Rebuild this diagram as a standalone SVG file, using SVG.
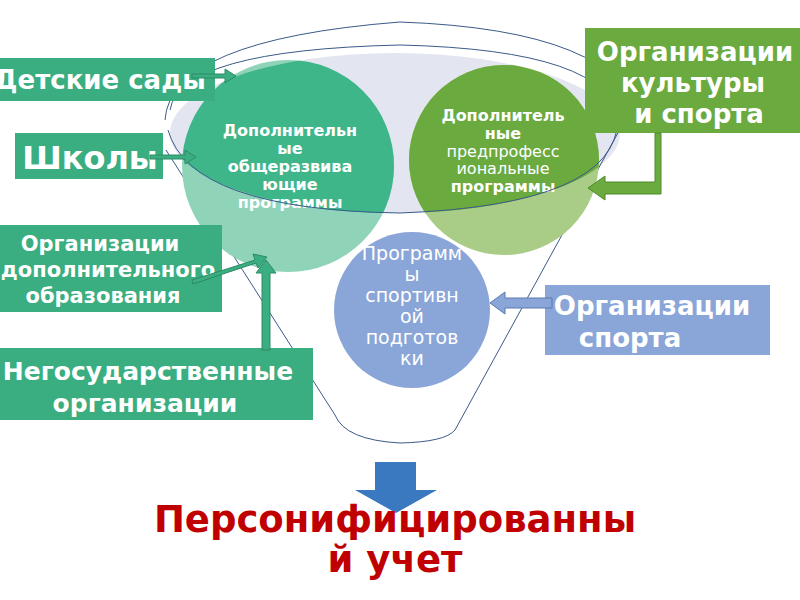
<svg xmlns="http://www.w3.org/2000/svg" width="800" height="600" viewBox="0 0 800 600">
<style>
.bt{font-family:"DejaVu Sans",sans-serif;font-weight:bold;fill:#fff;text-anchor:middle}
.ct{font-family:"DejaVu Sans",sans-serif;fill:#fff;text-anchor:middle}
.fl{fill:none;stroke:#3b5a8a;stroke-width:1}
.ga{fill:#3aae80;stroke:#2e8a66;stroke-width:1}
</style>
<defs>
<clipPath id="inner"><ellipse cx="395" cy="133" rx="225" ry="80"/></clipPath>
</defs>
<rect width="800" height="600" fill="#fff"/>
<g id="funnel">
<ellipse cx="395" cy="133" rx="225" ry="80" fill="#e3e5f0"/>
<path class="fl" d="M165 120 Q170 40 400 22 Q620 30 640 120"/>
<path class="fl" d="M166 150 L335 415 Q345 440 400 443 Q445 442 455 430 L625 120"/>
</g>
<g id="c1">
<circle cx="288" cy="166" r="106" fill="#8fd4b8"/>
<circle cx="288" cy="166" r="106" fill="#3fb68a" clip-path="url(#inner)"/>
<text class="ct" font-size="16" font-weight="bold"><tspan x="290" y="136">Дополнительн</tspan><tspan x="290" y="154">ые</tspan><tspan x="290" y="172">общеразвива</tspan><tspan x="290" y="190">ющие</tspan><tspan x="290" y="208">программы</tspan></text>
</g>
<g id="c2">
<circle cx="504" cy="160" r="95" fill="#a9cd86"/>
<circle cx="504" cy="160" r="95" fill="#6aaa3f" clip-path="url(#inner)"/>
<text class="ct" font-size="16"><tspan x="503" y="121" font-weight="bold">Дополнитель</tspan><tspan x="503" y="139" font-weight="bold">ные</tspan><tspan x="503" y="157">предпрофесс</tspan><tspan x="503" y="174">иональные</tspan><tspan x="503" y="192" font-weight="bold">программы</tspan></text>
</g>
<g id="c3">
<circle cx="412" cy="310" r="78" fill="#8aa6d8"/>
<text class="ct" font-size="19"><tspan x="412" y="260">Программ</tspan><tspan x="412" y="281">ы</tspan><tspan x="412" y="302">спортивн</tspan><tspan x="412" y="323">ой</tspan><tspan x="412" y="344">подготов</tspan><tspan x="412" y="365">ки</tspan></text>
</g>
<g id="fun-cover">
<path class="fl" d="M170 110 Q180 50 400 45 Q610 50 618 120 Q615 205 400 213 Q190 210 168 130"/>
</g>
<g id="b1"><rect x="0" y="58" width="215" height="43" fill="#3aae80"/><text class="bt" x="100" y="89" font-size="26">Детские сады</text></g>
<g id="b2"><rect x="15" y="133" width="148" height="46" fill="#3aae80"/><text class="bt" x="90" y="169" font-size="32">Школы</text></g>
<g id="b3"><rect x="0" y="225" width="222" height="87" fill="#3aae80"/><text class="bt" font-size="21"><tspan x="100" y="251">Организации</tspan><tspan x="108" y="277">дополнительного</tspan><tspan x="103" y="303">образования</tspan></text></g>
<g id="b4"><rect x="0" y="348" width="313" height="72" fill="#3aae80"/><text class="bt" font-size="25"><tspan x="148" y="380">Негосударственные</tspan><tspan x="145" y="412">организации</tspan></text></g>
<g id="b5"><rect x="585" y="28" width="215" height="105" fill="#6aaa3f"/><text class="bt" font-size="26"><tspan x="695" y="61">Организации</tspan><tspan x="693" y="92">культуры</tspan><tspan x="699" y="123">и спорта</tspan></text></g>
<g id="b6"><rect x="545" y="285" width="225" height="70" fill="#8aa6d8"/><text class="bt" font-size="26"><tspan x="652" y="315">Организации</tspan><tspan x="630" y="347">спорта</tspan></text></g>
<g id="connectors">
<path class="ga" d="M192 74 L225 74 L225 69 L236 76 L225 83 L225 78 L192 78 Z"/>
<path class="ga" d="M150 155 L185 155 L185 150 L196 157 L185 164 L185 159 L150 159 Z"/>
<path class="ga" d="M192 280 L255 260 L253 254 L267 257 L258 268 L256 263 L193 284 Z"/>
<path class="ga" d="M262 350 L262 273 L256 273 L266 260 L276 273 L270 273 L270 350 Z"/>
<path fill="#6aaa3f" stroke="#4e8a2a" d="M655 133 L661 133 L661 194 L605 194 L605 200 L588 188 L605 176 L605 182 L655 182 Z"/>
<path fill="#8aa6d8" stroke="#5a78b0" d="M552 298 L505 298 L505 292 L490 303 L505 314 L505 308 L552 308 Z"/>
<path fill="#3a78c0" d="M375 462 L416 462 L416 490 L437 490 L396 513 L355 490 L375 490 Z"/>
</g>
<g id="title"><text font-family="'DejaVu Sans',sans-serif" font-weight="bold" font-size="37" fill="#c00000" text-anchor="middle"><tspan x="395" y="532">Персонифицированны</tspan><tspan x="395" y="572">й учет</tspan></text></g>
</svg>
